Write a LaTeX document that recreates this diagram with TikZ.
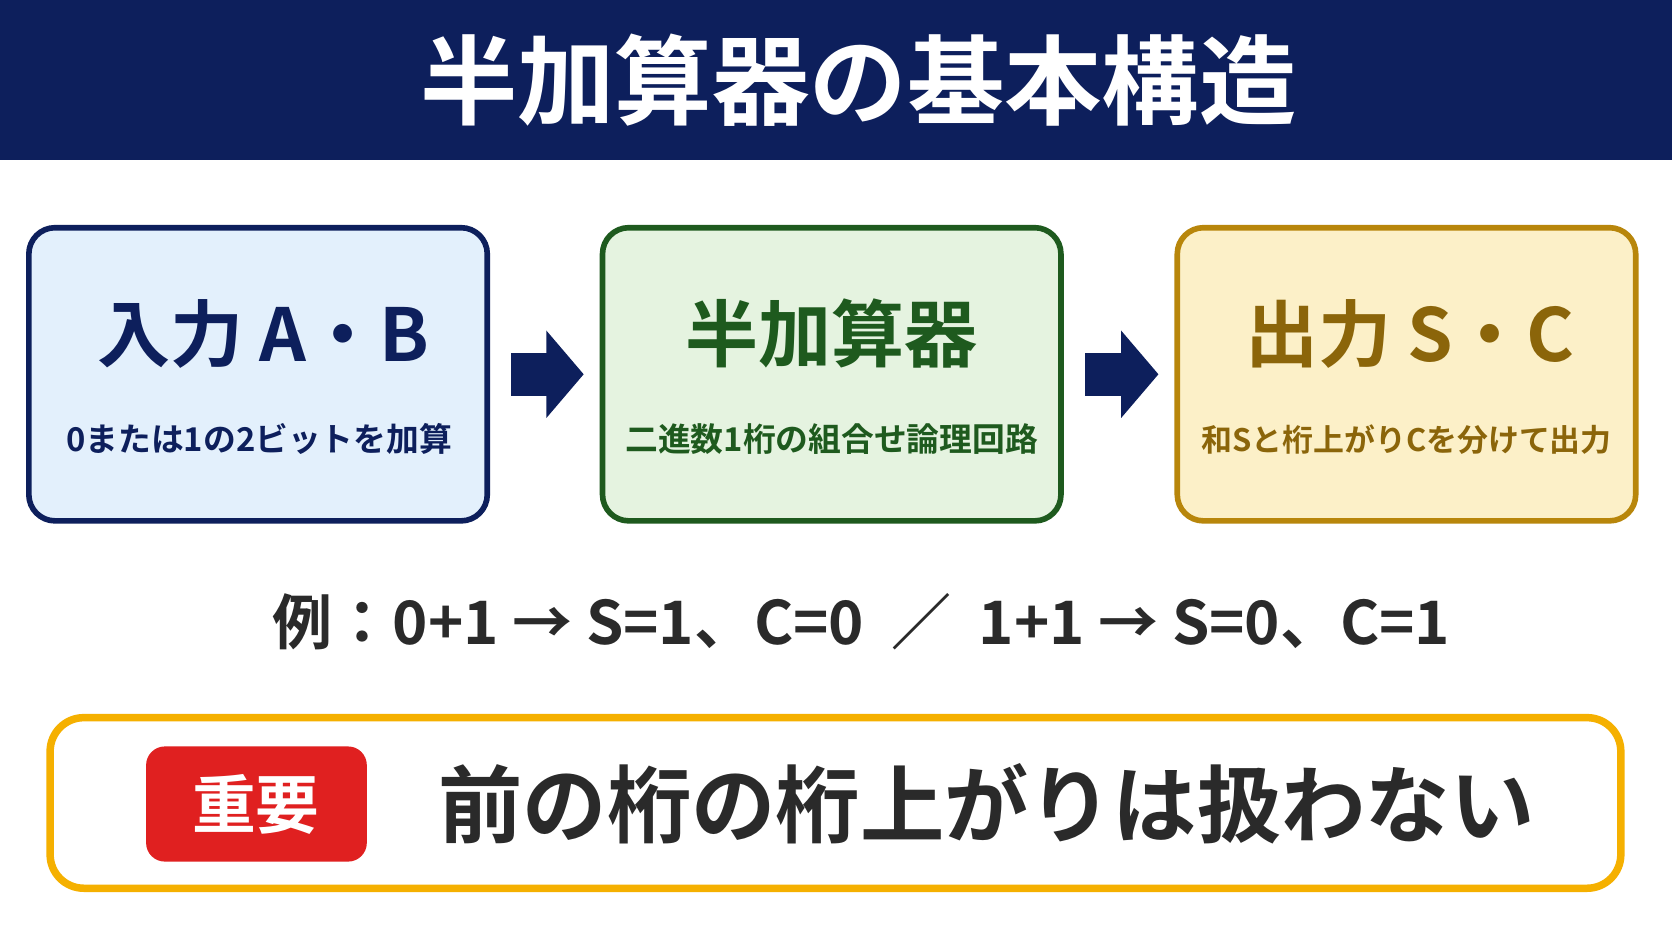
\documentclass[tikz,border=0pt]{standalone}
\usepackage{fontspec}
\setmainfont{Noto Sans CJK JP}[BoldFont={Noto Sans CJK JP Bold}]
\usetikzlibrary{arrows.meta}
\definecolor{navy}{HTML}{0D1F5C}
\definecolor{bluefill}{HTML}{E3F0FC}
\definecolor{greenline}{HTML}{1E5A1E}
\definecolor{greenfill}{HTML}{E5F3E0}
\definecolor{goldline}{HTML}{B8860B}
\definecolor{goldfill}{HTML}{FCF0C8}
\definecolor{goldtext}{HTML}{8B650A}
\definecolor{orangeline}{HTML}{F5B000}
\definecolor{badgered}{HTML}{E02020}
\definecolor{darkgray}{HTML}{2A2A2A}
\tikzset{
  stage/.style={draw, line width=3pt, rounded corners=14pt, minimum width=8.6cm, minimum height=5.5cm},
  flow/.style={navy, line width=0.8cm, -{Triangle[length=0.7cm,width=1.6cm]}, shorten <=0.4cm, shorten >=0.3cm},
  head/.style={font=\bfseries\fontsize{39}{44}\selectfont},
  sub/.style={font=\bfseries\fontsize{17.5}{21}\selectfont}
}
\begin{document}
\begin{tikzpicture}[x=0.02cm, y=-0.02cm]
\useasboundingbox (0,0) rectangle (1568,882);
\fill[white] (0,0) rectangle (1568,882);
% title
\fill[navy] (0,0) rectangle (1568,150);
\node[white, font=\bfseries\fontsize{52}{58}\selectfont] (title) at (805,75) {半加算器の基本構造};
% three stages
\node[stage, navy, fill=bluefill] (inbox) at (242,351) {};
\node[navy, head] at (247,313) {入力 A・B};
\node[navy, sub] at (243,412) {0または1の2ビットを加算};
\node[stage, greenline, fill=greenfill] (habox) at (780,351) {};
\node[greenline, head] at (780,313) {半加算器};
\node[greenline, sub] at (780,412) {二進数1桁の組合せ論理回路};
\node[stage, goldline, fill=goldfill] (outbox) at (1319,351) {};
\node[goldtext, head] at (1322,313) {出力 S・C};
\node[goldtext, sub, font=\bfseries\fontsize{16.5}{20}\selectfont] at (1319,412) {和Sと桁上がりCを分けて出力};
\draw[flow] (inbox.east) -- (habox.west);
\draw[flow] (habox.east) -- (outbox.west);
% example
\node[darkgray, font=\bfseries\fontsize{32}{36}\selectfont] (example) at (808,583)
  {例：0+1 → S=1、C=0 \ ／ \ 1+1 → S=0、C=1};
% note
\draw[orangeline, line width=4pt, fill=white, rounded corners=18pt] (47,673) rectangle (1520,833);
\fill[badgered, rounded corners=10pt] (137,700) rectangle (344,808);
\node[white, font=\bfseries\fontsize{34}{38}\selectfont] (badge) at (240,754) {重要};
\node[darkgray, anchor=west, font=\bfseries\fontsize{45}{50}\selectfont] (note) at (405,754) {前の桁の桁上がりは扱わない};
\end{tikzpicture}
\end{document}
